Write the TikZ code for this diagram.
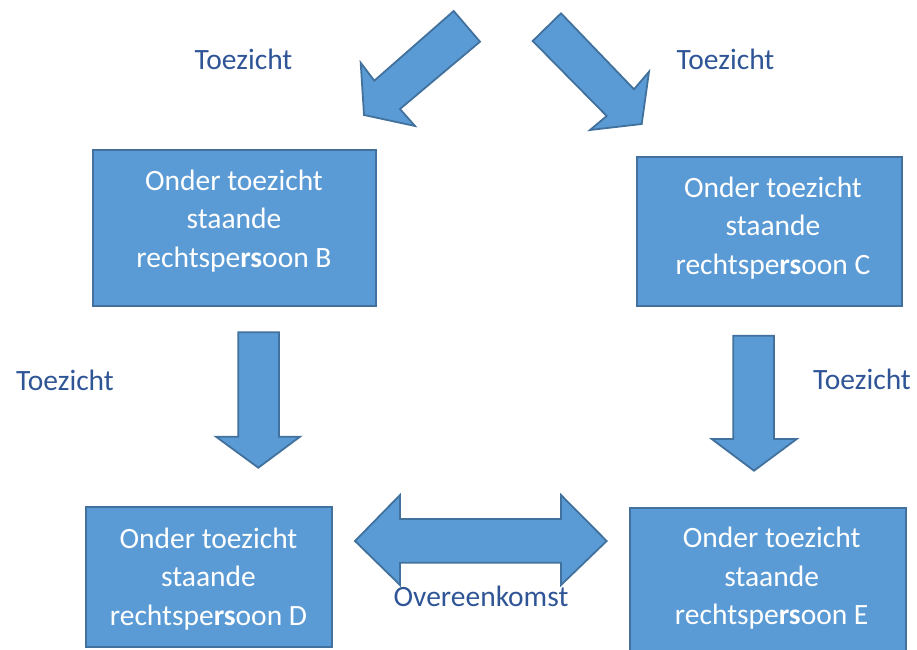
\documentclass[tikz,border=0pt]{standalone}
\usepackage{fontspec}
\setmainfont{Carlito}
\definecolor{boxfill}{HTML}{5B9BD5}
\definecolor{boxline}{HTML}{41719C}
\definecolor{labelblue}{HTML}{2F5597}
\begin{document}
\begin{tikzpicture}[x=1pt,y=-1pt,
  entity/.style={draw=boxline,fill=boxfill,line width=2pt,rectangle,inner sep=0pt},
  entitytext/.style={text=white,align=center,inner sep=0pt,font=\fontsize{29.5}{38.5}\selectfont},
  blockarrow/.style={draw=boxline,fill=boxfill,line width=1.8pt,line join=miter},
  relabel/.style={text=labelblue,inner sep=0pt,anchor=base,font=\fontsize{29.5}{34}\selectfont}]
\useasboundingbox (0,0) rectangle (917,649);

% entities
\node[entity,minimum width=283,minimum height=155.7] (B) at (234.2,227.9) {};
\node[entitytext] (Btext) at (234,220.8) {Onder toezicht\\staande\\rechtspe\textbf{rs}oon B};
\node[entity,minimum width=265,minimum height=148.7] (C) at (769.2,231.6) {};
\node[entitytext] (Ctext) at (773,228) {Onder toezicht\\staande\\rechtspe\textbf{rs}oon C};
\node[entity,minimum width=246,minimum height=139.4] (D) at (208.7,577) {};
\node[entitytext] (Dtext) at (208.5,578.9) {Onder toezicht\\staande\\rechtspe\textbf{rs}oon D};
\node[entity,minimum width=276,minimum height=160] (E) at (768,588.3) {};
\node[entitytext] (Etext) at (771.7,578.5) {Onder toezicht\\staande\\rechtspe\textbf{rs}oon E};

% diagonal block arrows at the top
\draw[blockarrow] (453.7,11) -- (374.3,80.7) -- (360.7,62.7) -- (364,115)
  -- (415,126) -- (400,109) -- (480,41.7) -- cycle;
\draw[blockarrow] (561,13.3) -- (634,89.3) -- (649,71.7) -- (641.7,124)
  -- (590,130) -- (606.7,116) -- (532.7,41) -- cycle;

% downward block arrows
\draw[blockarrow] (238.3,332.3) -- (279,332.3) -- (279,436.7) -- (300,436.7)
  -- (258.3,467.7) -- (216,436.7) -- (238.3,436.7) -- cycle;
\draw[blockarrow] (733.3,335.7) -- (774,335.7) -- (774,439) -- (796.7,439)
  -- (754,470.7) -- (711.7,439) -- (733.3,439) -- cycle;

% two-headed block arrow between D and E
\draw[blockarrow] (355,541) -- (400,495) -- (400,519) -- (561,519) -- (561,495)
  -- (606.7,541) -- (561,585) -- (561,562.7) -- (400,562.7) -- (400,585) -- cycle;

% relation labels
\node[relabel] (t1) at (243.5,69.3) {Toezicht};
\node[relabel] (t2) at (725.5,69) {Toezicht};
\node[relabel] (t3) at (65,390) {Toezicht};
\node[relabel] (t4) at (862,389.3) {Toezicht};
\node[relabel] (ov) at (481,606.7) {Overeenkomst};
\end{tikzpicture}
\end{document}
